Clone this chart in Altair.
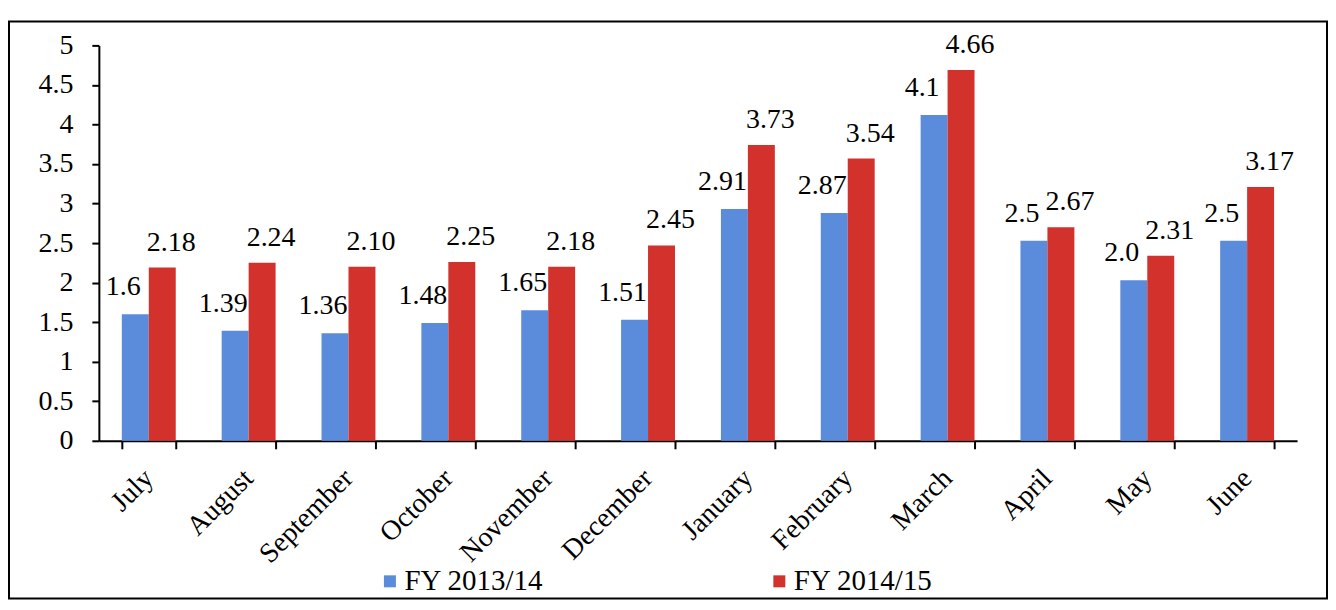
import altair as alt
import pandas as pd

months = ["July", "August", "September", "October", "November", "December",
          "January", "February", "March", "April", "May", "June"]
series = ["FY 2013/14", "FY 2014/15"]
fy1314 = [1.60, 1.39, 1.36, 1.49, 1.65, 1.53, 2.93, 2.88, 4.12, 2.53, 2.03, 2.53]
fy1415 = [2.19, 2.25, 2.20, 2.26, 2.20, 2.47, 3.74, 3.57, 4.69, 2.70, 2.34, 3.21]
lab1314 = ["1.6", "1.39", "1.36", "1.48", "1.65", "1.51", "2.91", "2.87", "4.1", "2.5", "2.0", "2.5"]
lab1415 = ["2.18", "2.24", "2.10", "2.25", "2.18", "2.45", "3.73", "3.54", "4.66", "2.67", "2.31", "3.17"]
y_ticks = [0, 0.5, 1, 1.5, 2, 2.5, 3, 3.5, 4, 4.5, 5]
colors = ["#5B8CDB", "#D2322B"]

rows = []
for i, m in enumerate(months):
    rows.append({"month": m, "series": series[0], "value": fy1314[i], "label": lab1314[i]})
    rows.append({"month": m, "series": series[1], "value": fy1415[i], "label": lab1415[i]})
df = pd.DataFrame(rows)

FONT = "Liberation Serif"
W, H = 1200, 396

x_enc = alt.X(
    "month:N", sort=months, title=None,
    scale=alt.Scale(paddingInner=0.46, paddingOuter=0.23),
    axis=alt.Axis(labelAngle=-45, labelAlign="right", labelBaseline="middle",
                  labelFontSize=28, labelFont=FONT, labelColor="black",
                  labelPadding=25, tickBand="extent", tickSize=8, tickWidth=2,
                  tickColor="black", domainColor="black", domainWidth=2, grid=False),
)
y_enc = alt.Y(
    "value:Q", title=None,
    scale=alt.Scale(domain=[0, 5], nice=False),
    axis=alt.Axis(values=y_ticks, format="~g", labelFontSize=28, labelFont=FONT,
                  labelColor="black", labelPadding=19, tickSize=7, tickWidth=2,
                  tickColor="black", domainColor="black", domainWidth=2, grid=False),
)
xoff = alt.XOffset("series:N", sort=series,
                   scale=alt.Scale(domain=series, paddingInner=0, paddingOuter=0))

base = alt.Chart(df)

bars = base.mark_bar().encode(
    x=x_enc, y=y_enc, xOffset=xoff,
    color=alt.Color(
        "series:N",
        scale=alt.Scale(domain=series, range=colors),
        legend=alt.Legend(orient="none", legendX=277, legendY=522, direction="horizontal",
                          title=None, symbolType="square", symbolSize=144,
                          symbolStrokeWidth=0, labelFontSize=29, labelFont=FONT,
                          labelColor="black", columnPadding=221, labelOffset=0,
                          labelLimit=300),
    ),
)

text_blue = base.transform_filter(alt.datum.series == series[0]).mark_text(
    dx=-12, dy=-19, baseline="alphabetic", fontSize=28, font=FONT, color="black"
).encode(x=x_enc, y=y_enc, xOffset=xoff, text="label:N")

text_red = base.transform_filter(alt.datum.series == series[1]).mark_text(
    dx=9, dy=-17, baseline="alphabetic", fontSize=28, font=FONT, color="black"
).encode(x=x_enc, y=y_enc, xOffset=xoff, text="label:N")

frame = alt.Chart(pd.DataFrame({"k": [0]})).mark_rect(
    fillOpacity=0, stroke="black", strokeWidth=2
).encode(x=alt.value(-90), x2=alt.value(1230), y=alt.value(-24), y2=alt.value(554))

chart = alt.layer(frame, bars, text_blue, text_red).properties(
    width=W, height=H,
    padding={"left": 0, "top": 12, "right": 0, "bottom": 0},
    background="white",
).configure_view(strokeWidth=0)

chart.save("out.html", embed_options={"renderer": "svg", "actions": False})
